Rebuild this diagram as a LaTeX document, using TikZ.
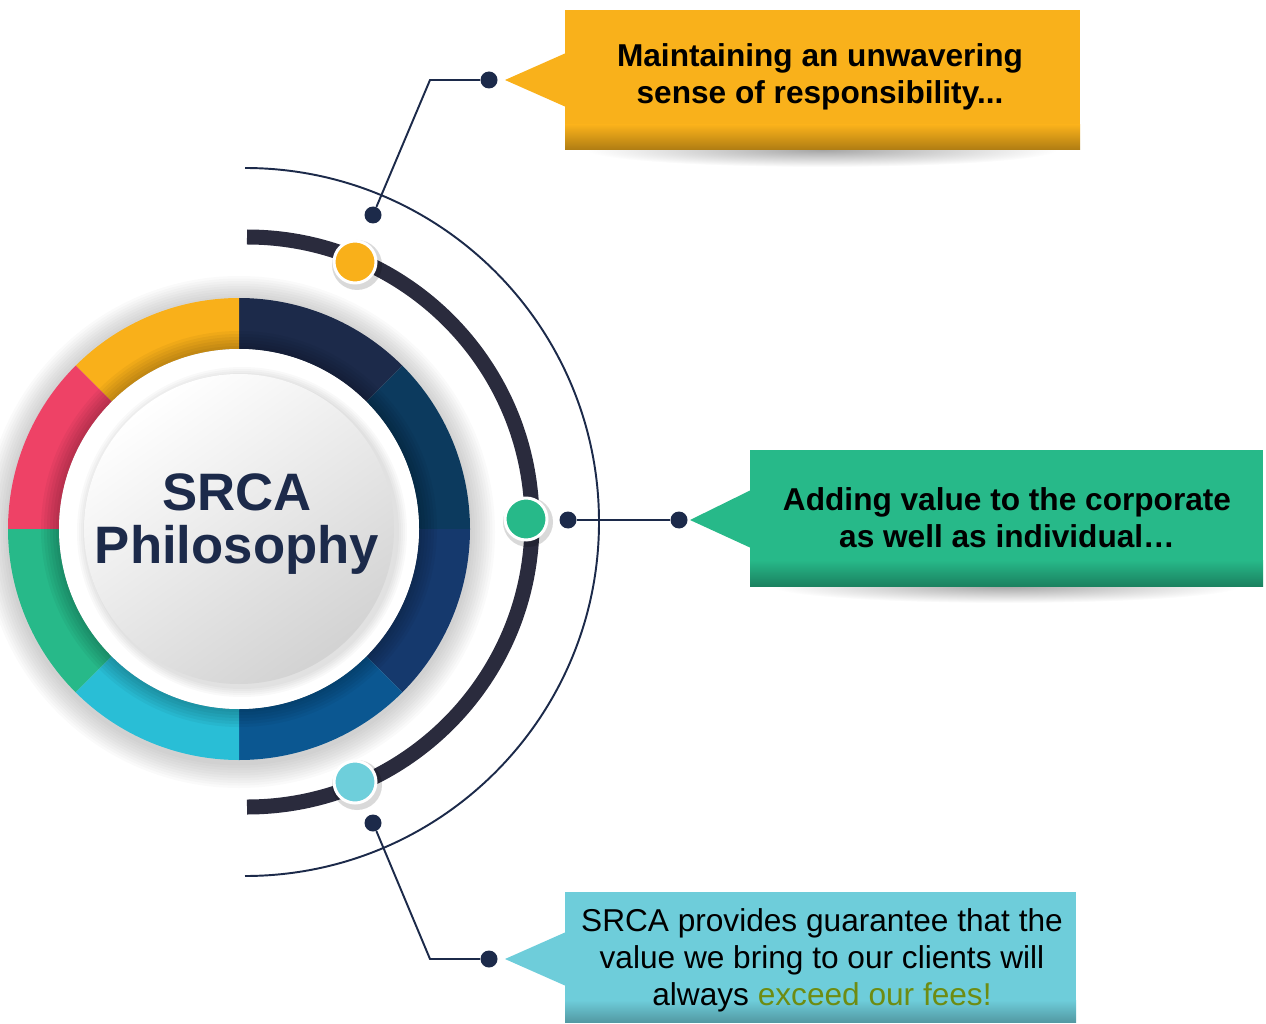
\documentclass[tikz,border=0pt]{standalone}
\usepackage{fontspec}
\setmainfont{Liberation Sans}

\definecolor{linenavy}{HTML}{1C2A4A}
\definecolor{arcdark}{HTML}{2A2B3D}
\definecolor{ringorange}{HTML}{F9B01A}
\definecolor{ringred}{HTML}{EE4266}
\definecolor{ringgreen}{HTML}{27B989}
\definecolor{ringcyan}{HTML}{29BED6}
\definecolor{navyA}{HTML}{1C2A4A}
\definecolor{navyB}{HTML}{0C3A5E}
\definecolor{navyC}{HTML}{15396D}
\definecolor{navyD}{HTML}{0B5791}
\definecolor{boxorange}{HTML}{F9B11B}
\definecolor{boxgreen}{HTML}{27B989}
\definecolor{boxcyan}{HTML}{6ECDDA}
\definecolor{markcyan}{HTML}{6ECFDB}
\definecolor{olivetext}{HTML}{6E8C12}

\begin{document}
\begin{tikzpicture}[x=0.02cm, y=0.02cm,
  dot/.style={circle, fill=linenavy, inner sep=0pt, minimum size=0.34cm},
  marker/.style={circle, draw=white, line width=1.7pt, inner sep=0pt, minimum size=0.84cm},
  leader/.style={draw=linenavy, line width=1.1pt},
  callout/.style={rectangle, inner sep=0pt},
  calltext/.style={align=center, text=black, font=\fontsize{18}{21}\selectfont\bfseries}]
  \useasboundingbox (0,0) rectangle (1266,-1023);

  % Halo round the ring
  \foreach \k in {1,...,10}
    \fill[black, opacity=0.02] (239,-532) circle[radius=231+2.5*\k];

  % Ring segments
  \begin{scope}[shift={(239,-529)}]
    \foreach \a/\b/\c in {90/45/navyA, 45/0/navyB, 0/-45/navyC, -45/-90/navyD,
                          90/135/ringorange, 135/180/ringred, 180/225/ringgreen, 225/270/ringcyan}
      \fill[\c] (\a:231) arc[start angle=\a, end angle=\b, radius=231]
        -- (\b:180) arc[start angle=\b, end angle=\a, radius=180] -- cycle;
    % inner shadow on the ring
    \foreach \k in {1,...,6}
      \fill[black, opacity=0.04] (0,0) circle[radius=180+3*\k];
    \fill[white] (0,0) circle[radius=180];
    % grey disc
    \foreach \k in {1,...,5}
      \fill[black, opacity=0.025] (3,-3) circle[radius=155+2*\k];
    \shade[top color=white, bottom color=gray!35, shading angle=35] (0,0) circle[radius=155];
  \end{scope}

  % Title
  \node[align=center, text=linenavy, font=\fontsize{30}{30}\selectfont\bfseries] (title) at (237,-524) {SRCA\\Philosophy};

  % Arcs
  \draw[arcdark, line width=0.3cm] (247,-237) arc[start angle=90, end angle=-90, radius=285];
  \draw[linenavy, line width=1.1pt] (245,-168) arc[start angle=90, end angle=-90, radius=354];

  % Markers on the arc
  \foreach \p/\c/\n in {{(355,-262)}/ringorange/m1, {(526,-519)}/ringgreen/m2, {(355,-782)}/markcyan/m3} {
    \fill[black, opacity=0.15] \p ++(2,-3) circle[radius=25];
    \node[marker, fill=\c] (\n) at \p {};
  }

  % Box shadows
  \shade[inner color=gray!70, outer color=white] (822,-150) ellipse[x radius=235, y radius=17];
  \shade[inner color=gray!70, outer color=white] (1006,-586) ellipse[x radius=235, y radius=17];

  % Box 1
  \node[callout, fill=boxorange, minimum width=10.3cm, minimum height=2.8cm] (box1) at (822.5,-80) {};
  \shade[top color=boxorange, bottom color=boxorange!70!black] (565,-125) rectangle (1080,-150);
  \fill[boxorange] (566,-53) -- (505,-80) -- (566,-107) -- cycle;
  \node[calltext] (txt1) at (820,-77) {Maintaining an unwavering\\sense of responsibility...};

  % Box 2
  \node[callout, fill=boxgreen, minimum width=10.26cm, minimum height=2.72cm] (box2) at (1006.5,-518) {};
  \shade[top color=boxgreen, bottom color=boxgreen!70!black] (750,-560) rectangle (1263,-586);
  \fill[boxgreen] (751,-490) -- (690,-520) -- (751,-548) -- cycle;
  \node[calltext] (txt2) at (1007,-518) {Adding value to the corporate\\as well as individual\dots};

  % Box 3
  \node[callout, fill=boxcyan, minimum width=10.22cm, minimum height=2.6cm] (box3) at (820.5,-957) {};
  \shade[top color=boxcyan, bottom color=boxcyan!75!black] (565,-1000) rectangle (1076,-1022);
  \fill[boxcyan] (566,-932) -- (505,-959) -- (566,-986) -- cycle;
  \node[calltext, font=\fontsize{18}{21}\selectfont] (txt3) at (822,-960)
    {SRCA provides guarantee that the\\value we bring to our clients will\\always \textcolor{olivetext}{exceed our fees!}};

  % Leader dots
  \node[dot] (d1a) at (373,-215) {};
  \node[dot] (d1b) at (489,-80) {};
  \node[dot] (d2a) at (568,-520) {};
  \node[dot] (d2b) at (679,-520) {};
  \node[dot] (d3a) at (373,-823) {};
  \node[dot] (d3b) at (489,-959) {};
  \coordinate (c1) at (430,-80);
  \coordinate (c3) at (430,-959);

  % Leader lines
  \draw[leader] (d1a) -- (c1) -- (d1b);
  \draw[leader] (d2a) -- (d2b);
  \draw[leader] (d3a) -- (c3) -- (d3b);
\end{tikzpicture}
\end{document}
